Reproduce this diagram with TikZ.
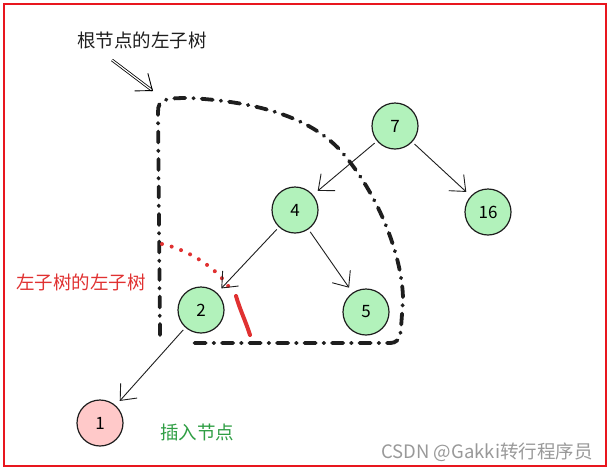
\documentclass[tikz,border=0pt]{standalone}
\usepackage{fontspec}
\setmainfont{Noto Sans CJK SC}
\usetikzlibrary{arrows.meta}
\definecolor{stroke}{HTML}{1E1E1E}
\definecolor{gfill}{HTML}{B2F2BB}
\definecolor{rfill}{HTML}{FFC9C9}
\definecolor{redt}{HTML}{E03131}
\definecolor{greent}{HTML}{2F9E44}
\definecolor{frame}{HTML}{E8161E}
\tikzset{
  treenode/.style={circle, draw=stroke, line width=1.2pt, minimum size=46pt, inner sep=0pt, font=\fontsize{17}{17}\selectfont},
  greennode/.style={treenode, fill=gfill},
  rednode/.style={treenode, fill=rfill},
  edgearrow/.style={draw=stroke, line width=0.9pt, -{Straight Barb[length=13pt,width=22pt,line width=0.9pt]}, shorten >=6pt, shorten <=3pt},
  label/.style={font=\fontsize{18.5}{18.5}\selectfont, inner sep=0pt},
  subtree/.style={draw=stroke, line width=3.8pt, line cap=round, dash pattern=on 11pt off 8pt on 0.5pt off 8pt},
  redtrace/.style={draw=redt, line width=4pt, line cap=round, dash pattern=on 0pt off 10pt},
}
\begin{document}
\begin{tikzpicture}[x=1pt,y=-1pt]
\useasboundingbox (0,0) rectangle (612,472);
\draw[frame, line width=2pt] (4,4) rectangle (606,466);

% subtree outline
\draw[subtree] (160,335) -- (158,112) .. controls (158,99) and (165,98) .. (190,98)
  .. controls (260,102) and (310,118) .. (340,150)
  .. controls (380,195) and (403,260) .. (403,300)
  -- (401,328) .. controls (400,340) and (398,343) .. (388,343) -- (190,343);

% red trace (left subtree of left subtree)
\draw[redtrace] (162,244) .. controls (190,250) and (220,270) .. (232,292);
\draw[redt, line width=4pt, line cap=round] (236,296) .. controls (240,310) and (246,322) .. (250,335);

% nodes
\node[greennode] (n7) at (395,126) {7};
\node[greennode] (n4) at (295,210) {4};
\node[greennode] (n16) at (488,212) {16};
\node[greennode] (n2) at (201,310) {2};
\node[greennode] (n5) at (366,312) {5};
\node[rednode] (n1) at (100,423) {1};

% edges
\draw[edgearrow] (n7) -- (n4);
\draw[edgearrow] (n7) -- (n16);
\draw[edgearrow] (n4) -- (n2);
\draw[edgearrow] (n4) -- (n5);
\draw[edgearrow] (n2) -- (n1);

% labels
\node[label, text=stroke] (t1) at (142,40) {根节点的左子树};
\node[label, text=redt] (t2) at (81,282) {左子树的左子树};
\node[label, text=greent] (t3) at (197,432) {插入节点};
\node[font=\fontsize{18.5}{18.5}\selectfont, text=black!40, inner sep=0pt] (wm) at (487,452) {CSDN @Gakki转行程序员};

% pointer arrow
\coordinate (pa) at (112,60);
\coordinate (pb) at (153,91);
\draw[stroke, line width=0.8pt, double=white, double distance=1.2pt, -{Straight Barb[length=14pt,width=22pt,line width=0.9pt]}] (pa) -- (pb);
\end{tikzpicture}
\end{document}
